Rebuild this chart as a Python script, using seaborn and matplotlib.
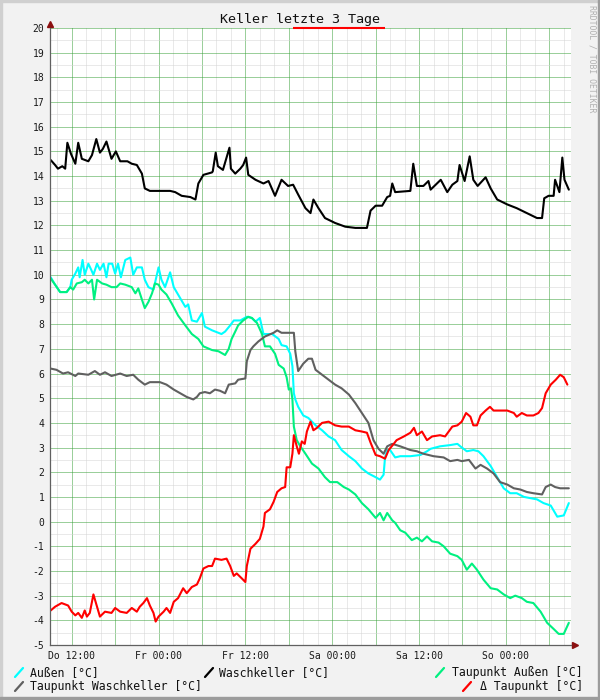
import matplotlib
matplotlib.use("Agg")
import matplotlib.pyplot as plt
import matplotlib.transforms as mtransforms
from matplotlib.lines import Line2D
from matplotlib.patches import Rectangle
import seaborn as sns
import pandas as pd

# Zeitachse: Stunden ab Do 09:00
aussen_h = [0.1, 0.7, 1.4, 2.3, 2.8, 3.0, 3.5, 3.9, 4.1, 4.5, 4.8, 5.3, 5.7, 6.0, 6.5, 6.9, 7.4, 7.8, 8.1, 8.6,
            9.0, 9.4, 9.8, 10.4, 11.1, 11.5, 12.0, 12.7, 13.1, 13.6, 14.3, 15.0, 15.4, 15.9, 16.6, 17.1, 17.7,
            18.7, 19.1, 19.6, 20.3, 21.0, 21.4, 22.4, 23.7, 24.2, 24.9, 25.4, 26.3, 27.2, 27.9, 28.4, 29.0,
            29.5, 30.7, 31.6, 32.0, 32.7, 33.2, 33.5, 33.7, 33.9, 34.3, 35.0, 35.7, 36.7, 37.6, 38.5, 39.4,
            40.3, 41.3, 42.2, 43.1, 44.0, 45.0, 45.6, 46.1, 46.3, 46.6, 47.0, 47.7, 48.4, 49.8, 51.2, 52.1,
            52.6, 53.9, 55.3, 56.3, 56.7, 57.6, 58.5, 59.2, 59.9, 60.9, 61.8, 62.7, 63.6, 64.5, 65.5, 66.4,
            67.3, 68.2, 69.2, 70.1, 71.0, 71.7]
aussen_t = [9.9, 9.6, 9.3, 9.3, 9.5, 9.8, 10.05, 10.3, 9.9, 10.6, 10.0, 10.45, 10.2, 10.0, 10.45, 10.2, 10.45,
            9.9, 10.45, 10.45, 10.05, 10.45, 9.9, 10.6, 10.7, 10.0, 10.3, 10.3, 9.8, 9.5, 9.4, 10.3, 9.8, 9.5,
            10.1, 9.5, 9.2, 8.7, 8.8, 8.15, 8.1, 8.45, 7.9, 7.75, 7.6, 7.7, 7.95, 8.15, 8.15, 8.3, 8.25, 8.1,
            8.25, 7.6, 7.6, 7.4, 7.15, 7.1, 6.8, 6.3, 5.2, 4.95, 4.65, 4.3, 4.2, 3.9, 3.7, 3.45, 3.3, 2.9,
            2.65, 2.45, 2.15, 1.95, 1.8, 1.7, 1.9, 2.6, 2.9, 2.9, 2.6, 2.65, 2.65, 2.7, 2.85, 2.95, 3.05, 3.1,
            3.15, 3.05, 2.85, 2.9, 2.85, 2.65, 2.25, 1.8, 1.35, 1.15, 1.15, 1.0, 0.95, 0.9, 0.75, 0.65, 0.2,
            0.25, 0.75]

keller_h = [0.1, 0.7, 1.1, 1.7, 2.1, 2.4, 2.9, 3.5, 3.9, 4.4, 5.3, 5.8, 6.4, 6.9, 7.3, 7.8, 8.5, 9.1, 9.7,
            10.7, 11.3, 12.0, 12.7, 13.1, 13.8, 15.2, 16.6, 17.3, 18.2, 19.4, 20.1, 20.5, 21.2, 22.4, 22.5,
            22.9, 23.2, 23.9, 24.8, 25.0, 25.6, 26.3, 26.7, 27.1, 27.4, 28.4, 29.5, 30.2, 31.1, 32.0, 32.9,
            33.6, 34.3, 35.3, 36.0, 36.4, 37.1, 38.0, 39.4, 40.8, 42.2, 43.8, 44.3, 45.0, 45.9, 46.6, 47.0,
            47.3, 47.7, 49.8, 50.2, 50.7, 51.6, 52.3, 52.6, 53.3, 54.0, 54.9, 55.6, 56.3, 56.6, 57.3, 58.0,
            58.5, 59.1, 60.2, 60.9, 61.8, 63.2, 64.5, 65.9, 67.3, 68.0, 68.3, 68.9, 69.6, 69.8, 70.4, 70.8,
            71.1, 71.7]
keller_t = [14.65, 14.45, 14.3, 14.4, 14.3, 15.35, 14.9, 14.5, 15.35, 14.7, 14.6, 14.85, 15.5, 14.95, 15.1,
            15.4, 14.7, 15.0, 14.6, 14.6, 14.5, 14.45, 14.1, 13.5, 13.4, 13.4, 13.4, 13.35, 13.2, 13.15, 13.05,
            13.7, 14.05, 14.15, 14.2, 14.95, 14.4, 14.25, 15.15, 14.3, 14.1, 14.3, 14.45, 14.75, 14.05, 13.85,
            13.7, 13.8, 13.2, 13.85, 13.6, 13.65, 13.25, 12.7, 12.5, 13.05, 12.7, 12.3, 12.1, 11.95, 11.9,
            11.9, 12.6, 12.8, 12.8, 13.15, 13.2, 13.7, 13.35, 13.4, 14.5, 13.6, 13.6, 13.8, 13.45, 13.65,
            13.85, 13.35, 13.65, 13.8, 14.45, 13.8, 14.8, 13.85, 13.6, 13.95, 13.5, 13.05, 12.85, 12.7, 12.5,
            12.3, 12.3, 13.1, 13.2, 13.2, 13.85, 13.35, 14.75, 13.85, 13.45]

tp_aussen_h = [0.1, 0.7, 1.4, 2.3, 2.8, 3.2, 3.7, 4.4, 4.8, 5.3, 5.8, 6.1, 6.5, 7.2, 7.8, 8.5, 9.2, 9.7, 10.4,
               11.3, 11.8, 12.2, 12.7, 13.1, 13.6, 14.1, 14.5, 15.0, 15.4, 16.1, 16.8, 17.7, 18.7, 19.6, 20.5,
               21.2, 22.4, 23.3, 24.2, 24.7, 25.1, 25.6, 26.0, 26.7, 27.4, 27.9, 28.6, 29.3, 29.7, 30.4, 31.1,
               31.6, 32.3, 32.7, 33.0, 33.3, 33.5, 33.7, 34.1, 34.6, 35.3, 36.2, 37.1, 38.0, 38.7, 39.7, 40.6,
               41.3, 42.2, 43.1, 44.0, 45.0, 45.6, 46.1, 46.6, 47.3, 47.7, 48.4, 49.1, 50.0, 50.7, 51.4, 52.1,
               52.8, 53.7, 54.4, 55.3, 56.3, 56.9, 57.6, 58.3, 59.0, 59.9, 60.9, 61.8, 62.7, 63.6, 64.3, 65.2,
               65.9, 66.8, 67.8, 68.7, 69.6, 70.3, 71.0, 71.7]
tp_aussen_t = [9.85, 9.6, 9.3, 9.3, 9.5, 9.4, 9.65, 9.7, 9.8, 9.65, 9.8, 9.0, 9.8, 9.65, 9.6, 9.5, 9.5, 9.65,
               9.6, 9.5, 9.25, 9.45, 9.0, 8.65, 8.9, 9.25, 9.65, 9.6, 9.4, 9.2, 8.85, 8.35, 7.95, 7.6, 7.4, 7.1,
               6.95, 6.9, 6.75, 7.0, 7.4, 7.7, 7.95, 8.15, 8.3, 8.25, 8.05, 7.6, 7.1, 7.1, 6.8, 6.35, 6.2, 5.85,
               5.35, 5.4, 4.95, 3.85, 3.3, 3.05, 2.75, 2.35, 2.15, 1.8, 1.6, 1.6, 1.4, 1.3, 1.1, 0.75, 0.5, 0.15,
               0.35, 0.05, 0.35, 0.05, -0.05, -0.35, -0.45, -0.75, -0.65, -0.8, -0.6, -0.8, -0.85, -1.0, -1.3,
               -1.4, -1.55, -1.95, -1.7, -1.95, -2.35, -2.7, -2.75, -2.95, -3.1, -3.0, -3.1, -3.25, -3.3, -3.65,
               -4.1, -4.35, -4.55, -4.55, -4.1]

tp_keller_h = [0.1, 0.9, 1.8, 2.5, 3.5, 3.9, 5.3, 6.2, 6.9, 7.6, 8.5, 9.7, 10.6, 11.5, 12.2, 13.1, 13.8, 15.2,
               16.1, 17.1, 18.0, 18.9, 19.8, 20.3, 20.7, 21.4, 22.1, 22.8, 23.5, 24.2, 24.7, 25.6, 26.0, 27.0,
               27.2, 27.7, 28.1, 28.8, 29.7, 30.9, 31.4, 32.0, 33.7, 33.9, 34.3, 35.0, 35.7, 36.2, 36.7, 37.6,
               38.5, 39.4, 40.3, 41.3, 42.2, 43.1, 44.0, 44.7, 45.4, 46.1, 46.6, 47.3, 48.4, 49.8, 50.7, 51.6,
               53.0, 54.4, 55.3, 56.3, 56.9, 57.9, 58.8, 59.5, 60.4, 61.3, 62.2, 63.2, 64.1, 65.0, 65.9, 66.8,
               68.0, 68.5, 69.2, 69.8, 70.5, 71.7]
tp_keller_t = [6.2, 6.15, 6.0, 6.05, 5.9, 6.0, 5.95, 6.1, 5.95, 6.05, 5.9, 6.0, 5.9, 5.95, 5.75, 5.55, 5.65,
               5.65, 5.55, 5.35, 5.2, 5.05, 4.95, 5.05, 5.2, 5.25, 5.2, 5.35, 5.3, 5.2, 5.55, 5.6, 5.75, 5.8, 6.5,
               6.95, 7.1, 7.3, 7.5, 7.65, 7.75, 7.65, 7.65, 6.9, 6.1, 6.4, 6.6, 6.6, 6.15, 5.95, 5.75, 5.55, 5.4,
               5.15, 4.8, 4.4, 4.0, 3.3, 2.95, 2.75, 3.05, 3.15, 3.05, 2.9, 2.85, 2.75, 2.65, 2.6, 2.45, 2.5,
               2.45, 2.5, 2.15, 2.3, 2.15, 1.95, 1.6, 1.5, 1.35, 1.3, 1.2, 1.15, 1.1, 1.4, 1.5, 1.4, 1.35, 1.35]

delta_h = [0.1, 0.7, 1.6, 2.5, 3.0, 3.5, 3.9, 4.4, 4.8, 5.1, 5.5, 6.0, 6.5, 6.9, 7.6, 8.5, 9.0, 9.7, 10.6, 11.3,
           12.0, 12.4, 12.9, 13.4, 13.8, 14.3, 14.6, 15.0, 15.7, 16.1, 16.6, 17.1, 17.7, 18.4, 18.9, 19.6, 20.3,
           20.7, 21.2, 21.9, 22.4, 22.8, 23.7, 24.4, 24.9, 25.4, 25.8, 26.5, 27.0, 27.2, 27.7, 28.4, 29.0, 29.5,
           29.7, 30.4, 30.9, 31.4, 32.0, 32.5, 32.7, 33.2, 33.5, 33.7, 34.1, 34.4, 34.8, 35.2, 35.5, 36.0, 36.4,
           36.9, 37.6, 38.5, 39.4, 40.3, 41.3, 42.2, 43.1, 43.8, 44.3, 45.0, 45.6, 46.3, 46.8, 47.5, 47.9, 48.9,
           49.8, 50.3, 50.7, 51.4, 52.1, 52.8, 53.9, 54.6, 55.1, 55.6, 56.3, 56.9, 57.5, 58.1, 58.5, 59.0, 59.5,
           60.2, 60.8, 61.3, 62.2, 63.2, 64.1, 64.5, 65.2, 65.9, 66.8, 67.5, 68.0, 68.5, 69.2, 69.9, 70.5, 71.0,
           71.5]
delta_t = [-3.6, -3.45, -3.3, -3.4, -3.65, -3.8, -3.7, -3.9, -3.6, -3.85, -3.7, -2.95, -3.45, -3.85, -3.65,
           -3.7, -3.5, -3.65, -3.7, -3.5, -3.65, -3.45, -3.3, -3.1, -3.4, -3.7, -4.05, -3.85, -3.65, -3.5, -3.7,
           -3.25, -3.1, -2.7, -2.9, -2.65, -2.55, -2.3, -1.9, -1.8, -1.8, -1.5, -1.55, -1.5, -1.8, -2.2, -2.1,
           -2.3, -2.45, -1.8, -1.1, -0.9, -0.7, -0.2, 0.35, 0.5, 0.8, 1.2, 1.35, 1.4, 2.2, 2.2, 2.75, 3.5, 3.05,
           2.75, 3.25, 3.15, 3.65, 4.05, 3.7, 3.8, 4.0, 4.05, 3.9, 3.85, 3.85, 3.7, 3.65, 3.6, 3.2, 2.7, 2.65,
           2.55, 2.9, 3.15, 3.3, 3.45, 3.6, 3.8, 3.5, 3.65, 3.3, 3.45, 3.5, 3.45, 3.65, 3.85, 3.9, 4.05, 4.4,
           4.25, 3.9, 3.9, 4.3, 4.5, 4.65, 4.5, 4.5, 4.5, 4.4, 4.25, 4.4, 4.3, 4.3, 4.4, 4.6, 5.2, 5.55, 5.75,
           5.95, 5.85, 5.55]

# roter Balken oben an der 20er-Linie
lueftung_von = [33.6]
lueftung_bis = [46.3]

tick_hours = [3, 15, 27, 39, 51, 63]
tick_labels = ["Do 12:00", "Fr 00:00", "Fr 12:00", "Sa 00:00", "Sa 12:00", "So 00:00"]

labels = ["Außen [°C]", "Waschkeller [°C]", "Taupunkt Außen [°C]",
          "Taupunkt Waschkeller [°C]", "Δ Taupunkt [°C]"]
colors = ["#00ffff", "#000000", "#00f080", "#606060", "#ff0000"]

sns.set_style("white")
plt.rcParams["font.family"] = ["DejaVu Sans Mono", "DejaVu Sans"]
plt.rcParams["axes.unicode_minus"] = False

W, H = 600, 700


def fx(px):
    return px / W


def fy(py):
    return 1 - py / H


fig = plt.figure(figsize=(6, 7), dpi=100, facecolor="#f2f2f2")
ax = fig.add_axes([fx(50), fy(645), fx(571) - fx(50), fy(28) - fy(645)])
ax.set_facecolor("white")

series = [
    (aussen_h, aussen_t),
    (keller_h, keller_t),
    (tp_aussen_h, tp_aussen_t),
    (tp_keller_h, tp_keller_t),
    (delta_h, delta_t),
]

for (h, t), color in zip(series, colors):
    df = pd.DataFrame({"h": h, "t": t})
    sns.lineplot(data=df, x="h", y="t", color=color, linewidth=1.5,
                 estimator=None, sort=False, ax=ax)

ax.hlines([20] * len(lueftung_von), lueftung_von, lueftung_bis,
          color="#ff0000", linewidth=1.5, clip_on=False, zorder=5)

ax.set_xlim(0, 72)
ax.set_ylim(-5, 20)
ax.set_xlabel("")
ax.set_ylabel("")

major_x = list(range(3, 72, 6))
ax.set_xticks(major_x)
ax.set_xticklabels([tick_labels[tick_hours.index(h)] if h in tick_hours else "" for h in major_x])
ax.set_xticks([h for h in range(1, 72, 2) if h not in major_x], minor=True)
ax.set_yticks(range(-5, 21))
ax.set_yticks([v + 0.5 for v in range(-5, 20)], minor=True)

ax.set_axisbelow(True)
ax.grid(which="minor", color="#d4d4d4", linestyle=(0, (1, 1)), linewidth=0.72)
ax.grid(which="major", color="#38a038", linestyle=(0, (1, 1)), linewidth=0.72)

for side in ["top", "right"]:
    ax.spines[side].set_visible(False)
for side in ["left", "bottom"]:
    ax.spines[side].set_color("#606060")
    ax.spines[side].set_linewidth(0.9)

ax.tick_params(axis="both", which="major", length=2, width=0.8, color="#606060",
               labelsize=7, labelcolor="#1a1a1a", pad=2, direction="out")
ax.tick_params(axis="both", which="minor", length=0)

# Pfeile an den Achsenenden
up = mtransforms.offset_copy(ax.transAxes, fig=fig, x=0, y=4, units="dots")
right = mtransforms.offset_copy(ax.transAxes, fig=fig, x=4, y=0, units="dots")
ax.plot([0], [1], marker="^", ms=4, color="#8b1010", transform=up, clip_on=False)
ax.plot([1], [0], marker=">", ms=4, color="#8b1010", transform=right, clip_on=False)

fig.text(0.5, fy(23.5), "Keller letzte 3 Tage", ha="center", va="baseline",
         fontsize=9.6, color="#111111")
fig.text(fx(592), fy(5), "RRDTOOL / TOBI OETIKER", rotation=270, ha="center", va="top",
         fontsize=5.9, color="#b0b0b0")

# Legende
legend_items = [
    (0, 15, 30, 676, "left"),
    (1, 205, 219, 676, "left"),
    (2, 436, 583, 676, "right"),
    (3, 15, 30, 690, "left"),
    (4, 463, 583, 690, "right"),
]
for idx, icon_x, text_x, base_y, align in legend_items:
    fig.add_artist(Line2D([fx(icon_x), fx(icon_x + 8)], [fy(base_y + 1), fy(base_y - 8)],
                          color=colors[idx], linewidth=1.6, transform=fig.transFigure))
    fig.text(fx(text_x), fy(base_y), labels[idx], ha=align, va="baseline",
             fontsize=8.3, color="#111111")

# Rahmen
fig.add_artist(Rectangle((0, fy(2)), 1, 2 / H, transform=fig.transFigure, color="#d0d0d0"))
fig.add_artist(Rectangle((0, 0), 2 / W, 1, transform=fig.transFigure, color="#d0d0d0"))
fig.add_artist(Rectangle((0, 0), 1, 3 / H, transform=fig.transFigure, color="#9c9c9c"))
fig.add_artist(Rectangle((1 - 2 / W, 0), 2 / W, 1, transform=fig.transFigure, color="#9c9c9c"))

fig.savefig("out.png", dpi=100, facecolor=fig.get_facecolor())
